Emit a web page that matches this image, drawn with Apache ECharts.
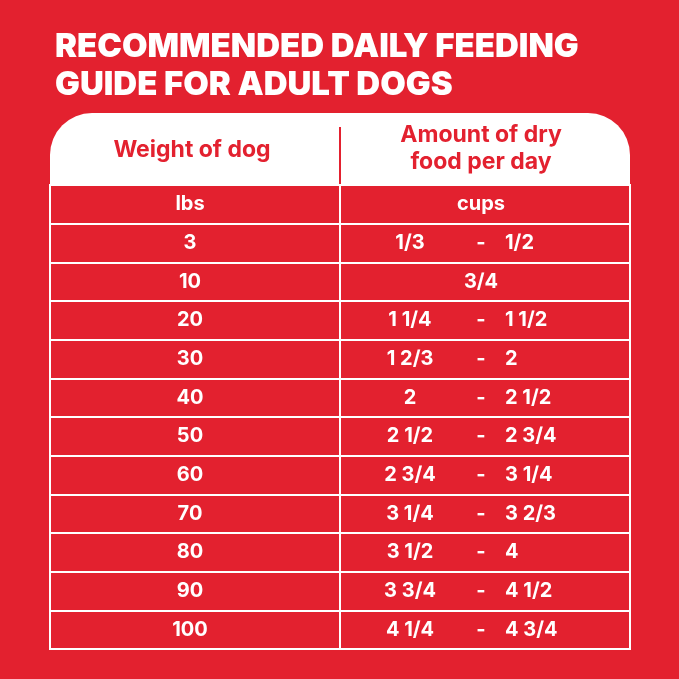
<!DOCTYPE html>
<html>
<head>
  <meta charset="utf-8">
  <style>
    html, body { margin: 0; padding: 0; background: #e3212f; }
  </style>
</head>
<body>
  <div id="main" style="width: 679px; height: 679px"></div>
</body>
<script src="https://cdn.jsdelivr.net/npm/echarts@6/dist/echarts.min.js"></script>
<script>
  var weights = ['lbs', '3', '10', '20', '30', '40', '50', '60', '70', '80', '90', '100'];
  var cupsLow = ['cups', '1/3', '3/4', '1 1/4', '1 2/3', '2', '2 1/2', '2 3/4', '3 1/4', '3 1/2', '3 3/4', '4 1/4'];
  var cupsHigh = ['', '1/2', '', '1 1/2', '2', '2 1/2', '2 3/4', '3 1/4', '3 2/3', '4', '4 1/2', '4 3/4'];

  var red = '#e3212f';
  var font = 'Inter, "Open Sans", sans-serif';
  var chart = echarts.init(document.getElementById('main'));

  chart.setOption({
    backgroundColor: red,
    animation: false,
    grid: { left: 50, right: 49, top: 185, bottom: 30, show: true, borderColor: '#fff', borderWidth: 2 },
    xAxis: {
      type: 'value', min: 0, max: 580, interval: 290,
      axisLabel: { show: false }, axisLine: { show: false }, axisTick: { show: false },
      splitLine: { lineStyle: { color: '#fff', width: 2 } }
    },
    yAxis: {
      type: 'category', data: weights, inverse: true,
      axisLabel: { show: false }, axisLine: { show: false }, axisTick: { show: false },
      splitLine: { show: true, lineStyle: { color: '#fff', width: 2 } }
    },
    graphic: [
      { type: 'text', left: 55, top: 28, style: { text: 'RECOMMENDED DAILY FEEDING\nGUIDE FOR ADULT DOGS', fill: '#fff', font: '900 33px ' + font, lineHeight: 38 } },
      { type: 'rect', shape: { x: 50, y: 113, width: 580, height: 73, r: [42, 42, 0, 0] }, style: { fill: '#fff' } },
      { type: 'line', shape: { x1: 340, y1: 127, x2: 340, y2: 186 }, style: { stroke: red, lineWidth: 2 } },
      { type: 'text', x: 192, y: 150, style: { text: 'Weight of dog', fill: red, font: '700 23px ' + font, align: 'center', verticalAlign: 'middle' } },
      { type: 'text', x: 481, y: 149, style: { text: 'Amount of dry\nfood per day', fill: red, font: '700 23px ' + font, align: 'center', verticalAlign: 'middle', lineHeight: 27 } }
    ],
    series: [{
      type: 'custom',
      data: weights.map(function (w, i) { return [i]; }),
      renderItem: function (params, api) {
        var i = api.value(0);
        var y = api.coord([0, weights[i]])[1];
        var ts = function (text, xv, align) {
          return { type: 'text', x: api.coord([xv, weights[i]])[0], y: y,
            style: { text: text, fill: '#fff', font: '700 20px ' + font, align: align, verticalAlign: 'middle' } };
        };
        var kids = [ts(weights[i], 140, 'center')];
        if (cupsHigh[i] === '') {
          kids.push(ts(cupsLow[i], 431, 'center'));
        } else {
          kids.push(ts(cupsLow[i], 360, 'center'));
          kids.push(ts('-', 431, 'center'));
          kids.push(ts(cupsHigh[i], 455, 'left'));
        }
        return { type: 'group', children: kids };
      }
    }]
  });
</script>
</html>
